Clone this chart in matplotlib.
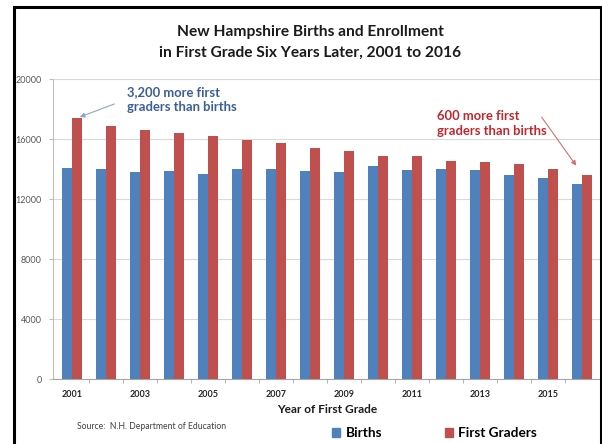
import matplotlib
matplotlib.use('Agg')
import matplotlib.pyplot as plt
from matplotlib.patches import Rectangle, Patch
import numpy as np

# Data
years = list(range(2001, 2017))
births = [14100, 14000, 13800, 13900, 13700, 14000, 14050, 13900,
          13850, 14200, 13950, 14050, 13950, 13600, 13400, 13000]
first_graders = [17400, 16900, 16600, 16400, 16200, 15950, 15750, 15400,
                 15200, 14900, 14900, 14550, 14500, 14350, 14000, 13650]
y_ticks = [0, 4000, 8000, 12000, 16000, 20000]

BLUE = '#4F81BD'
RED = '#C0504D'
FONT = 'Lato'

W, H = 602, 444
fig = plt.figure(figsize=(W / 100, H / 100), dpi=100)
fig.patch.set_facecolor('white')

# axes placed in pixel terms
left, right, top, bottom = 53, 600, 79.3, 379.3
ax = fig.add_axes([left / W, 1 - bottom / H, (right - left) / W, (bottom - top) / H])

x = np.arange(len(years))
bw = 0.29
ax.bar(x - bw / 2, births, bw, color=BLUE, zorder=3)
ax.bar(x + bw / 2, first_graders, bw, color=RED, zorder=3)

ax.set_xlim(-0.549, 15.52)
ax.set_ylim(0, 20000)
ax.set_yticks(y_ticks)
ax.set_yticklabels([str(v) for v in y_ticks], fontsize=6.5, color='#595959', family=FONT)
ax.grid(axis='y', color='#D9D9D9', lw=0.8, zorder=0)

ax.set_xticks(x[::2])
ax.set_xticklabels([str(y) for y in years[::2]], fontsize=6.5, fontweight='bold',
                   color='#262626', family=FONT)
ax.set_xticks(x[:-1] + 0.5, minor=True)
ax.tick_params(axis='x', which='major', length=0, pad=8)
ax.tick_params(axis='x', which='minor', length=3, color='#A6A6A6')
ax.tick_params(axis='y', length=3, color='#BFBFBF', pad=5)

for s in ['top', 'right']:
    ax.spines[s].set_visible(False)
ax.spines['left'].set_color('#BFBFBF')
ax.spines['bottom'].set_color('#A6A6A6')
ax.spines['left'].set_linewidth(0.8)
ax.spines['bottom'].set_linewidth(0.8)

# titles
fig.text(310 / W, 1 - 32 / H, 'New Hampshire Births and Enrollment', ha='center', va='center',
         fontsize=11.2, fontweight='bold', color='#1A1A1A', family=FONT)
fig.text(310 / W, 1 - 53 / H, 'in First Grade Six Years Later, 2001 to 2016', ha='center', va='center',
         fontsize=11.2, fontweight='bold', color='#1A1A1A', family=FONT)
fig.text(327 / W, 1 - 409 / H, 'Year of First Grade', ha='center', va='center',
         fontsize=8.6, fontweight='bold', color='#1A1A1A', family=FONT)
fig.text(77 / W, 1 - 426 / H, 'Source:  N.H. Department of Education', ha='left', va='center',
         fontsize=6.2, color='#404040', family=FONT)

# annotations
ax.text(1.62, 18670, '3,200 more first\ngraders than births', ha='left', va='center',
        fontsize=9.4, fontweight='bold', color='#3B5E9B', family=FONT, linespacing=1.3)
ax.annotate('', xy=(0.16, 17420), xytext=(1.33, 18420),
            arrowprops=dict(arrowstyle='-|>', color='#8EA5C8', lw=0.8, mutation_scale=7))
ax.text(10.73, 17050, '600 more first\ngraders than births', ha='left', va='center',
        fontsize=9.4, fontweight='bold', color='#C0282D', family=FONT, linespacing=1.3)
ax.annotate('', xy=(14.87, 14090), xytext=(13.76, 17620),
            arrowprops=dict(arrowstyle='-|>', color='#D07070', lw=0.8, mutation_scale=7))

# legend
handles = [Patch(color=BLUE, label='Births'), Patch(color=RED, label='First Graders')]
fig.legend(handles=handles, ncol=2, loc='center left', bbox_to_anchor=(332 / W, 1 - 433 / H),
           frameon=False, handlelength=0.6, handleheight=0.6, handletextpad=0.4,
           columnspacing=4.6, borderpad=0, borderaxespad=0,
           prop=dict(family=FONT, weight='bold', size=9.8))

# black frame around chart
fig.add_artist(Rectangle((13.5 / W, -0.1), (600.5 - 13.5) / W, 1.1 - 7.5 / H,
                         transform=fig.transFigure, fill=False, ec='black', lw=2.2))

fig.savefig('out.png', dpi=100)
